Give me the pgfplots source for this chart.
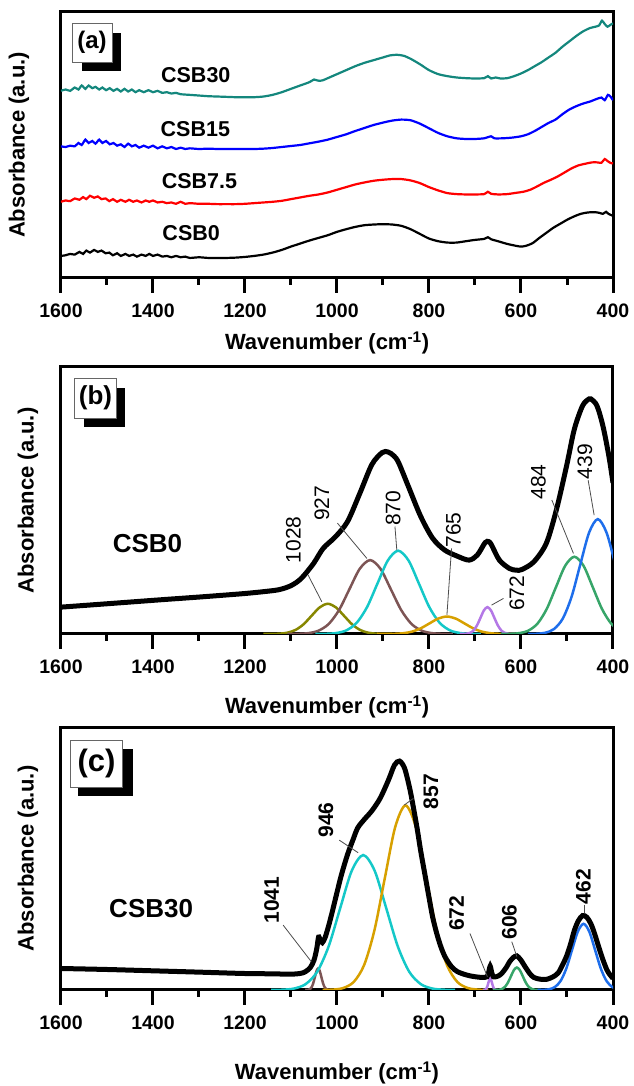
\documentclass[border=0pt]{standalone}
\usepackage{fontspec}
\setmainfont{Liberation Sans}
\usepackage{pgfplots}
\pgfplotsset{compat=1.18}
\definecolor{cteal}{RGB}{20,135,125}
\definecolor{colive}{RGB}{135,135,0}
\definecolor{cbrown}{RGB}{125,85,85}
\definecolor{ccyan}{RGB}{20,200,200}
\definecolor{cgold}{RGB}{215,160,0}
\definecolor{cpurple}{RGB}{180,120,230}
\definecolor{cgreen}{RGB}{55,165,105}
\definecolor{cblue}{RGB}{30,110,235}
\pgfplotsset{
  panel/.style={
    width=552pt, scale only axis, x dir=reverse,
    xmin=400, xmax=1600, ymin=0,
    xtick={400,600,...,1600}, minor x tick num=1,
    xtick pos=bottom, ytick=\empty,
    tick align=outside, major tick length=15pt, minor tick length=7pt,
    tick style={line width=3pt, black},
    axis line style={line width=3pt},
    /pgf/number format/assume math mode=true,
    /pgf/number format/1000 sep={},
    xticklabel style={font=\fontsize{19.5}{20}\selectfont\bfseries, yshift=-7pt},
    xlabel style={font=\fontsize{22}{24}\selectfont\bfseries, anchor=center},
    ylabel style={font=\fontsize{22}{24}\selectfont\bfseries, anchor=center},
    xlabel={Wavenumber (cm\textsuperscript{-1})},
    ylabel={Absorbance (a.u.)},
  },
  comp/.style={line width=2.5pt, smooth, tension=0.5},
  env/.style={line width=5pt, black, smooth, tension=0.5},
}
\newcommand{\pk}{\fontsize{21}{22}\selectfont}
\begin{document}
\begin{tikzpicture}
\useasboundingbox (0,0) rectangle (633pt,1086pt);
% ---------------- (a)
\begin{axis}[panel, at={(61pt,808pt)}, anchor=south west, height=266pt, ymax=796,
  xlabel style={at={(axis description cs:0.482,-0.244)}},
  ylabel style={at={(axis description cs:-0.076,0.5)}}]
\addplot[line width=2.2pt, black, smooth, tension=0.4] coordinates {
(1600,66)(1590,68)(1580,72)(1570,70)(1560,78)(1552,72)(1545,82)(1537,76)(1528,84)(1520,78)(1512,82)(1503,74)(1495,76)(1487,68)(1478,74)(1470,66)(1460,72)(1452,66)(1443,70)(1435,64)(1425,70)(1416,66)(1408,72)(1400,66)(1390,70)(1380,64)(1370,66)(1360,62)(1350,66)(1340,62)(1330,64)(1320,60)(1300,62)(1280,60)(1260,60)(1240,60)(1220,61)(1200,63)(1180,66)(1160,70)(1140,76)(1120,84)(1100,94)(1080,103)(1060,112)(1040,120)(1020,128)(1000,138)(980,146)(960,153)(940,158)(920,160)(900,161)(880,160)(860,156)(840,146)(820,132)(800,118)(780,110)(760,106)(740,106)(720,110)(700,114)(680,117)(672,122)(665,116)(650,110)(630,102)(610,96)(600,94)(590,96)(575,104)(560,120)(545,135)(530,150)(515,162)(500,174)(485,184)(470,192)(455,196)(440,197)(430,195)(422,192)(415,198)(410,192)(400,186)};
\addplot[line width=2.2pt, red, smooth, tension=0.4] coordinates {
(1600,228)(1590,232)(1580,230)(1570,238)(1560,234)(1552,242)(1545,236)(1537,246)(1528,240)(1520,244)(1512,236)(1503,238)(1495,230)(1487,236)(1478,228)(1470,234)(1460,228)(1452,234)(1443,228)(1435,232)(1425,226)(1416,232)(1408,228)(1400,232)(1390,226)(1380,228)(1370,224)(1360,226)(1350,222)(1340,228)(1330,222)(1320,224)(1300,222)(1280,222)(1260,221)(1240,221)(1220,221)(1200,222)(1180,224)(1160,226)(1140,228)(1120,231)(1100,236)(1080,241)(1060,246)(1040,250)(1020,256)(1000,264)(980,272)(960,280)(940,286)(920,291)(900,294)(880,296)(860,296)(840,292)(820,284)(800,272)(780,262)(760,254)(740,251)(720,250)(700,250)(680,251)(672,258)(665,252)(650,250)(630,251)(610,255)(595,258)(580,264)(565,274)(550,285)(535,294)(520,304)(505,316)(490,328)(475,337)(460,342)(445,346)(435,346)(425,345)(418,356)(412,350)(405,344)(400,343)};
\addplot[line width=2.2pt, blue, smooth, tension=0.4] coordinates {
(1600,394)(1590,392)(1580,396)(1570,394)(1562,404)(1555,398)(1547,414)(1540,404)(1532,410)(1525,402)(1517,414)(1510,404)(1502,410)(1494,400)(1486,404)(1478,396)(1470,400)(1462,392)(1454,402)(1446,394)(1438,398)(1430,390)(1420,396)(1410,390)(1400,396)(1390,388)(1380,394)(1370,388)(1360,392)(1350,386)(1340,390)(1330,386)(1320,388)(1300,386)(1280,387)(1260,386)(1240,386)(1220,386)(1200,386)(1180,386)(1160,387)(1140,389)(1120,392)(1100,395)(1080,398)(1060,403)(1040,408)(1020,414)(1000,422)(980,430)(960,440)(940,449)(920,458)(900,465)(880,471)(860,474)(840,472)(820,462)(800,448)(780,434)(760,424)(740,418)(720,416)(700,416)(680,418)(665,424)(658,418)(640,418)(620,420)(600,424)(585,430)(570,440)(555,452)(540,464)(525,474)(510,490)(495,504)(480,514)(465,522)(450,528)(435,536)(425,540)(418,532)(411,548)(405,542)(400,532)};
\addplot[line width=2.2pt, cteal, smooth, tension=0.4] coordinates {
(1600,560)(1590,564)(1580,560)(1570,570)(1562,564)(1555,576)(1547,566)(1540,576)(1532,568)(1525,572)(1517,564)(1510,570)(1502,562)(1494,568)(1486,560)(1478,566)(1470,558)(1462,566)(1454,558)(1446,564)(1438,556)(1430,562)(1420,556)(1410,562)(1400,556)(1390,560)(1380,554)(1370,556)(1360,552)(1350,554)(1340,550)(1320,548)(1300,546)(1280,544)(1260,543)(1240,542)(1220,541)(1200,541)(1180,541)(1160,543)(1140,548)(1120,556)(1100,566)(1080,576)(1060,586)(1050,594)(1045,592)(1038,590)(1030,592)(1020,598)(1000,610)(980,622)(960,634)(940,644)(920,652)(900,660)(885,666)(870,668)(855,665)(840,656)(820,640)(800,622)(780,610)(760,604)(740,600)(720,598)(700,597)(680,598)(672,604)(665,597)(655,600)(645,597)(630,598)(615,604)(600,612)(585,622)(570,634)(555,646)(540,660)(525,674)(510,692)(495,708)(480,724)(465,738)(450,748)(438,752)(430,756)(424,770)(418,760)(412,752)(405,758)(400,762)};
\node[font=\fontsize{21.5}{22}\selectfont\bfseries] at (axis cs:1307,606) {CSB30};
\node[font=\fontsize{21.5}{22}\selectfont\bfseries] at (axis cs:1308,446) {CSB15};
\node[font=\fontsize{21.5}{22}\selectfont\bfseries] at (axis cs:1299,291) {CSB7.5};
\node[font=\fontsize{21.5}{22}\selectfont\bfseries] at (axis cs:1317,133) {CSB0};
\end{axis}
% ---------------- (b)
\begin{axis}[panel, at={(61pt,452pt)}, anchor=south west, height=267pt, ymax=795,
  xlabel style={at={(axis description cs:0.482,-0.273)}},
  ylabel style={at={(axis description cs:-0.060,0.5)}}]
\addplot[comp, colive] coordinates {(880,0.03)(897.5,0.2)(915,1.0)(932.5,3.95)(950,12.2)(967.5,29.2)(985,54.6)(1002.5,79.4)(1020,90)(1037.5,79.4)(1055,54.6)(1072.5,29.2)(1090,12.2)(1107.5,3.95)(1125,1.0)(1142.5,0.2)(1160,0.03)};
\addplot[comp, cbrown] coordinates {(748,0.07)(770.5,0.48)(793,2.44)(815.5,9.66)(838,29.8)(860.5,71.4)(883,133.4)(905.5,194.2)(928,220)(950.5,194.2)(973,133.4)(995.5,71.4)(1018,29.8)(1040.5,9.66)(1063,2.44)(1085.5,0.48)(1108,0.07)};
\addplot[comp, ccyan] coordinates {(687,0.07)(709.5,0.55)(732,2.75)(754.5,10.9)(777,33.6)(799.5,80.5)(822,150.4)(844.5,218.9)(867,248)(889.5,218.9)(912,150.4)(934.5,80.5)(957,33.6)(979.5,10.9)(1002,2.75)(1024.5,0.55)(1047,0.07)};
\addplot[comp, cgold] coordinates {(609,0.02)(628,0.11)(647,0.58)(666,2.28)(685,7.04)(704,16.9)(723,31.5)(742,45.9)(761,52)(780,45.9)(799,31.5)(818,16.9)(837,7.04)(856,2.28)(875,0.58)(894,0.11)(913,0.02)};
\addplot[comp, cpurple] coordinates {(613,0.02)(620.5,0.18)(628,0.89)(635.5,3.51)(643,10.8)(650.5,26.0)(658,48.5)(665.5,70.6)(673,80)(680.5,70.6)(688,48.5)(695.5,26.0)(703,10.8)(710.5,3.51)(718,0.89)(725.5,0.18)(733,0.02)};
\addplot[comp, cgreen] coordinates {(364,2.55)(384,10.1)(404,31.1)(424,74.7)(444,139.5)(464,203.0)(484,230)(504,203.0)(524,139.5)(544,74.7)(564,31.1)(584,10.1)(604,2.55)(624,0.51)(644,0.07)};
\addplot[comp, cblue] coordinates {(338,15.0)(357,46.3)(376,111.0)(395,207.4)(414,301.8)(433,342)(452,301.8)(471,207.4)(490,111.0)(509,46.3)(528,15.0)(547,3.80)(566,0.75)(585,0.11)};
\addplot[env] coordinates {(1600,80)(1500,90)(1382,102)(1300,110)(1205,120)(1160,126)(1126,132)(1100,144)(1078,165)(1051,210)(1030,255)(1003,290)(977,335)(950,420)(924,505)(902,540)(889,542)(876,530)(866,510)(845,440)(818,350)(792,285)(766,250)(739,232)(713,220)(695,235)(678,272)(670,275)(664,265)(647,220)(625,195)(610,190)(598,192)(572,215)(545,270)(523,370)(501,500)(484,610)(466,680)(452,700)(448,700)(435,680)(422,620)(409,530)(400,450)};
\node[font=\fontsize{26}{28}\selectfont\bfseries] at (axis cs:1412,270) {CSB0};
\node[rotate=90,font=\pk] at (axis cs:1095,280) {1028};
\node[rotate=90,font=\pk] at (axis cs:1033,389) {927};
\node[rotate=90,font=\pk] at (axis cs:878,374) {870};
\node[rotate=90,font=\pk] at (axis cs:747,310) {765};
\node[rotate=90,font=\pk] at (axis cs:609,121) {672};
\node[rotate=90,font=\pk] at (axis cs:562,453) {484};
\node[rotate=90,font=\pk] at (axis cs:461,513) {439};
\draw[line width=0.8pt, black!70] (axis cs:1063,176) -- (axis cs:1033,96);
\draw[line width=0.8pt, black!70] (axis cs:999,330) -- (axis cs:935,225);
\draw[line width=0.8pt, black!70] (axis cs:874,320) -- (axis cs:870,250);
\draw[line width=0.8pt, black!70] (axis cs:751,255) -- (axis cs:761,57);
\draw[line width=0.8pt, black!70] (axis cs:638,106) -- (axis cs:664,86);
\draw[line width=0.8pt, black!70] (axis cs:533,399) -- (axis cs:486,240);
\draw[line width=0.8pt, black!70] (axis cs:454,458) -- (axis cs:441,354);
\end{axis}
% ---------------- (c)
\begin{axis}[panel, at={(61pt,96pt)}, anchor=south west, height=263pt, ymax=795,
  xlabel style={at={(axis description cs:0.5,-0.316)}},
  ylabel style={at={(axis description cs:-0.060,0.5)}}]
\addplot[comp, cbrown] coordinates {(1013,0.02)(1016.5,0.14)(1020,0.72)(1023.5,2.85)(1027,8.8)(1030.5,21.1)(1034,39.4)(1037.5,57.4)(1041,65)(1044.5,57.4)(1048,39.4)(1051.5,21.1)(1055,8.8)(1058.5,2.85)(1062,0.72)(1065.5,0.14)(1069,0.02)};
\addplot[comp, ccyan] coordinates {(743,0.14)(768,0.90)(793,4.53)(818,17.9)(843,55.2)(868,132.5)(893,247.5)(918,360.1)(943,408)(968,360.1)(993,247.5)(1018,132.5)(1043,55.2)(1068,17.9)(1093,4.53)(1118,0.90)(1143,0.14)};
\addplot[comp, cgold] coordinates {(671,0.17)(693.5,1.23)(716,6.19)(738.5,24.5)(761,75.5)(783.5,181.2)(806,338.4)(828.5,492.4)(851,558)(873.5,492.4)(896,338.4)(918.5,181.2)(941,75.5)(963.5,24.5)(986,6.19)(1008.5,1.23)(1031,0.17)};
\addplot[comp, cpurple] coordinates {(651,0.01)(653,0.08)(655,0.39)(657,1.54)(659,4.74)(661,11.4)(663,21.2)(665,30.9)(667,35)(669,30.9)(671,21.2)(673,11.4)(675,4.74)(677,1.54)(679,0.39)(681,0.08)(683,0.01)};
\addplot[comp, cgreen] coordinates {(557,0.02)(563.5,0.15)(570,0.75)(576.5,2.99)(583,9.2)(589.5,22.1)(596,41.2)(602.5,60.0)(609,68)(615.5,60.0)(622,41.2)(628.5,22.1)(635,9.2)(641.5,2.99)(648,0.75)(654.5,0.15)(661,0.02)};
\addplot[comp, cblue] coordinates {(364,0.06)(376.5,0.44)(389,2.2)(401.5,8.8)(414,27.1)(426.5,64.9)(439,121.3)(451.5,176.5)(464,200)(476.5,176.5)(489,121.3)(501.5,64.9)(514,27.1)(526.5,8.8)(539,2.2)(551.5,0.44)(564,0.06)};
\addplot[env] coordinates {(1600,65)(1500,62)(1400,58)(1300,54)(1205,50)(1150,49)(1100,48)(1080,50)(1069,55)(1058,68)(1050,90)(1044,125)(1040,160)(1036,150)(1032,143)(1026,158)(1018,195)(1010,238)(1000,295)(990,350)(977,410)(965,455)(955,490)(941,515)(924,542)(906,580)(888,635)(875,680)(864,692)(853,670)(842,610)(835,560)(826,490)(818,420)(809,350)(800,280)(792,220)(783,170)(774,130)(765,100)(752,72)(739,56)(720,46)(704,41)(685,38)(674,40)(670,55)(667,72)(664,55)(660,40)(650,42)(642,50)(632,68)(625,85)(617,98)(609,103)(600,90)(590,68)(580,48)(572,38)(560,33)(545,32)(530,40)(519,52)(510,75)(501,102)(492,140)(484,180)(475,210)(466,225)(457,220)(448,200)(440,170)(431,130)(422,92)(413,60)(406,45)(400,35)};
\node[font=\fontsize{26}{28}\selectfont\bfseries] at (axis cs:1404,245) {CSB30};
\node[rotate=90,font=\pk\bfseries] at (axis cs:1142,272) {1041};
\node[rotate=90,font=\pk\bfseries] at (axis cs:1024,514) {946};
\node[rotate=90,font=\pk\bfseries] at (axis cs:796,600) {857};
\node[rotate=90,font=\pk\bfseries] at (axis cs:740,232) {672};
\node[rotate=90,font=\pk\bfseries] at (axis cs:625,206) {606};
\node[rotate=90,font=\pk\bfseries] at (axis cs:464.5,312) {462};
\draw[line width=0.8pt, black!70] (axis cs:1117,196) -- (axis cs:1056,86);
\draw[line width=0.8pt, black!70] (axis cs:995,453) -- (axis cs:954,415);
\draw[line width=0.8pt, black!70] (axis cs:834,579) -- (axis cs:854,559);
\draw[line width=0.8pt, black!70] (axis cs:711,171) -- (axis cs:673,40);
\draw[line width=0.8pt, black!70] (axis cs:620,146) -- (axis cs:609,101);
\draw[line width=0.8pt, black!70] (axis cs:462,257) -- (axis cs:462,232);
\end{axis}
% ---------------- panel tags
\fill[black] (82pt,1053pt) rectangle (121pt,1015pt);
\draw[fill=white, draw=black!60, line width=0.8pt] (72pt,1063pt) rectangle (112pt,1024pt);
\node[font=\fontsize{24}{26}\selectfont\bfseries] at (92pt,1043.5pt) {(a)};
\fill[black] (83.6pt,698pt) rectangle (125pt,659pt);
\draw[fill=white, draw=black!60, line width=0.8pt] (74.3pt,708pt) rectangle (116.7pt,668pt);
\node[font=\fontsize{26}{28}\selectfont\bfseries] at (95.5pt,688pt) {(b)};
\fill[black] (78.4pt,337pt) rectangle (133pt,290pt);
\draw[fill=white, draw=black!60, line width=0.8pt] (70.3pt,346pt) rectangle (122.8pt,299pt);
\node[font=\fontsize{31}{33}\selectfont\bfseries] at (96.5pt,322.5pt) {(c)};
\end{tikzpicture}
\end{document}
